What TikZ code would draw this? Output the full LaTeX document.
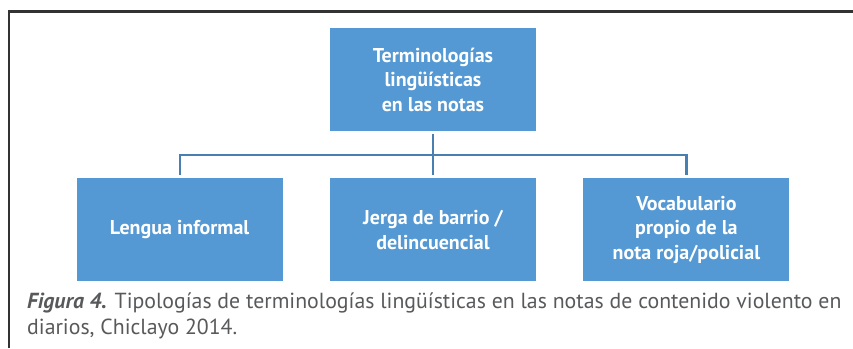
\documentclass[tikz,border=0pt]{standalone}
\usepackage{fontspec}
\setmainfont{PT Sans}
\usepackage{xcolor}
\usetikzlibrary{positioning}
\usetikzlibrary{calc}

\definecolor{cajaazul}{HTML}{5499D3}
\definecolor{lineaazul}{HTML}{4A7FB1}
\definecolor{textogris}{HTML}{58595B}
\definecolor{marco}{HTML}{333333}

\begin{document}
\begin{tikzpicture}[%
    x=1pt, y=-1pt,
    node distance = 47pt,
    tipo/.style={fill=cajaazul,text=white,inner sep=0pt,
        minimum width=206pt,minimum height=103pt,align=center,
        font=\fontsize{20}{24.5}\selectfont\bfseries},
    rama/.style={draw=lineaazul,line width=2.2pt,shorten >=3pt,shorten <=3pt},
    leyenda/.style={text=textogris,align=left,inner sep=0pt,
        font=\fontsize{21.8}{26}\selectfont}
]
    \useasboundingbox (0,0) rectangle (853,348);
    \draw[marco,line width=2.5pt] (9,348) -- (9,11.5) -- (853,11.5);

    \node[tipo] (top) at (433,79.5) {Terminologías\\lingüísticas\\en las notas};
    \node[tipo, below=of top] (jerga) {Jerga de barrio /\\delincuencial};
    \node[tipo, left=of jerga] (lengua) {Lengua informal};
    \node[tipo, right=of jerga] (vocab) {Vocabulario\\propio de la\\nota roja/policial};

    \coordinate (bar) at ($(top.south)!0.5!(jerga.north)$);
    \path[rama] (top) -- (jerga);
    \path[rama] (lengua.north) |- (bar) -| (vocab.north);

    \node[leyenda, anchor=north west] (pie) at (27,293)
        {\textbf{\textit{Figura 4.}} Tipologías de terminologías lingüísticas en las notas de contenido violento en\\diarios, Chiclayo 2014.};
\end{tikzpicture}
\end{document}
